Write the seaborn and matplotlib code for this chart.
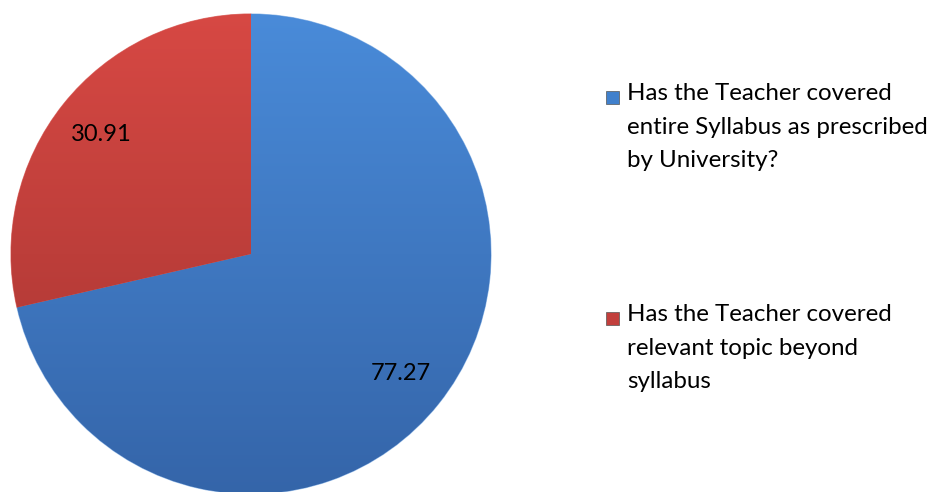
import numpy as np
import matplotlib.pyplot as plt
import matplotlib.colors as mcolors
from matplotlib.patches import Rectangle
import seaborn as sns

# Data
labels = ['Has the Teacher covered\nentire Syllabus as prescribed\nby University?',
          'Has the Teacher covered\nrelevant topic beyond\nsyllabus']
values = [77.27, 30.91]
colors = ['#4080CC', '#C23F3C']
top_colors = ['#4A8CDA', '#D84944']
bottom_colors = ['#3464A8', '#A23330']

sns.set_theme(style='white')
plt.rcParams['font.family'] = ['Lato', 'DejaVu Sans']

fig = plt.figure(figsize=(9.38, 4.92), dpi=100)
ax = fig.add_axes([11 / 938, -2 / 492, 480 / 938, 480 / 492])

wedges, texts, autotexts = ax.pie(values, colors=colors, startangle=90, counterclock=False,
                                  autopct=lambda p: '%.2f' % (p * sum(values) / 100),
                                  pctdistance=0.8, radius=1.0,
                                  wedgeprops=dict(linewidth=0.8, edgecolor='#9DC0EA'),
                                  textprops=dict(fontsize=17, color='black'))
wedges[1].set_edgecolor('#E07A76')

# vertical gradient shading clipped to each wedge
for w, c1, c2 in zip(wedges, top_colors, bottom_colors):
    cmap = mcolors.LinearSegmentedColormap.from_list('g', [c2, c1])
    grad = np.linspace(0, 1, 256).reshape(-1, 1)
    im = ax.imshow(grad, extent=[-1.05, 1.05, -1.05, 1.05], origin='lower',
                   cmap=cmap, aspect='auto', zorder=w.get_zorder() + 0.1)
    im.set_clip_path(w)
for t in autotexts:
    t.set_zorder(5)
ax.set_xlim(-1.0, 1.0)
ax.set_ylim(-1.0, 1.0)
ax.set_aspect('equal')
ax.axis('off')

# legend drawn by hand so the marker sits on the first line
legend_y = [97, 318]
for lab, col, y in zip(labels, colors, legend_y):
    fig.patches.append(Rectangle((606 / 938, 1 - (y + 7) / 492), 13 / 938, 13 / 492,
                                 transform=fig.transFigure, facecolor=col,
                                 edgecolor='#555555', linewidth=0.5))
    fig.text(627 / 938, 1 - (y - 14) / 492, lab, fontsize=17.4, va='top', ha='left',
             linespacing=1.74, color='black')

plt.savefig('out.png', dpi=100)
